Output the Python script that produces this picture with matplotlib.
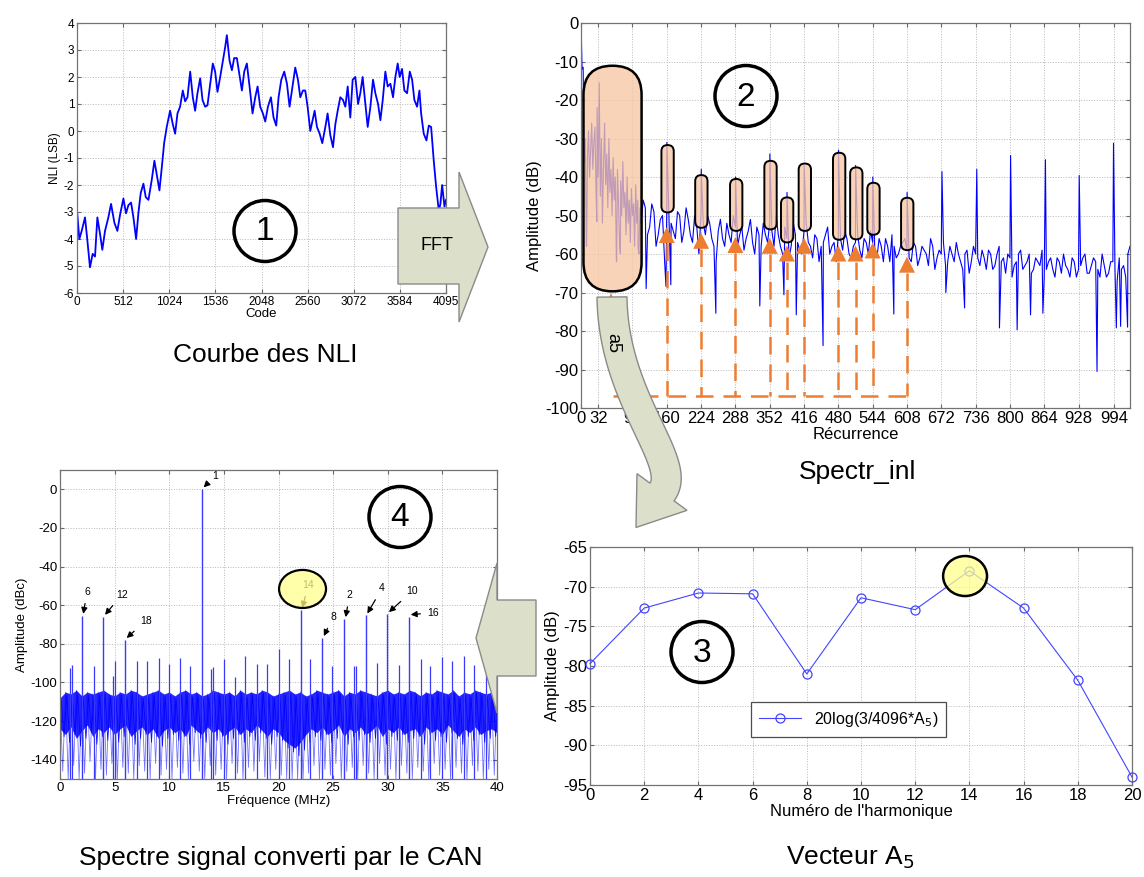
import numpy as np
import matplotlib
matplotlib.use('Agg')
import matplotlib.pyplot as plt
from matplotlib.patches import Ellipse, Polygon, FancyBboxPatch

plt.rcParams['font.family'] = ['Liberation Sans', 'DejaVu Sans']
plt.rcParams['axes.unicode_minus'] = False

# ---------------- data ----------------
# Panel 1 : NLI curve
nli_code = [0, 26, 52, 89, 115, 144, 174, 200, 226, 255, 281, 311, 348, 378, 415, 448, 478, 515, 544, 570,
            600, 626, 656, 681, 707, 737, 763, 793, 830, 859, 885, 915, 941, 967, 996, 1033, 1063, 1089, 1115, 1144,
            1174, 1200, 1226, 1256, 1285, 1311, 1337, 1367, 1393, 1422, 1448, 1478, 1507, 1533, 1559, 1589, 1619, 1644, 1663, 1693,
            1719, 1744, 1774, 1804, 1830, 1856, 1885, 1915, 1948, 1978, 2004, 2033, 2063, 2089, 2119, 2152, 2181, 2211, 2237, 2267,
            2300, 2330, 2359, 2385, 2422, 2452, 2478, 2507, 2533, 2559, 2589, 2615, 2637, 2663, 2693, 2722, 2756, 2781, 2811, 2841,
            2867, 2893, 2922, 2952, 2978, 3004, 3033, 3059, 3089, 3119, 3144, 3170, 3200, 3226, 3256, 3285, 3311, 3341, 3367, 3393,
            3422, 3448, 3478, 3507, 3533, 3559, 3581, 3607, 3633, 3663, 3693, 3719, 3744, 3774, 3800, 3819, 3848, 3878, 3904, 3930,
            3959, 3985, 4015, 4033, 4052, 4078, 4095]
nli_val = [-2.94, -4.0, -3.7, -3.2, -4.05, -5.05, -4.55, -4.65, -3.2, -3.8, -4.4, -3.7, -3.2, -2.7, -3.4, -3.7, -3.1, -2.5, -3.05, -2.75,
           -2.65, -3.2, -4.0, -3.05, -2.3, -1.95, -2.45, -2.55, -1.8, -1.1, -1.6, -2.2, -1.35, -0.45, 0.15, 0.75, 0.25, -0.1, 0.65, 0.9,
           1.5, 1.1, 1.25, 2.2, 1.25, 0.75, 1.4, 1.95, 1.15, 0.9, 0.95, 1.75, 2.5, 2.2, 1.45, 2.0, 2.6, 3.1, 3.55, 2.6,
           2.25, 2.7, 2.7, 2.05, 1.5, 2.2, 2.5, 1.65, 0.65, 1.25, 1.65, 0.9, 0.65, 0.35, 0.9, 1.25, 0.5, 0.2, 1.25, 1.9,
           2.2, 1.75, 0.9, 1.5, 2.35, 1.9, 1.25, 1.5, 1.5, 0.9, 0.0, 0.4, 0.75, 0.15, -0.1, -0.45, 0.15, 0.65, -0.15, -0.6,
           0.25, 0.75, 1.25, 1.15, 0.9, 1.65, 0.5, 1.9, 2.0, 1.0, 1.4, 2.0, 1.0, 0.15, 0.9, 1.9, 1.4, 1.0, 0.4, 1.15,
           2.2, 1.65, 1.75, 1.25, 2.0, 2.5, 2.0, 2.3, 1.5, 1.4, 2.2, 1.9, 1.15, 0.9, 1.5, 0.65, -0.1, -0.35, 0.2, 0.15,
           -1.1, -2.05, -2.95, -2.7, -2.0, -2.8, -2.55]
nli_xticks = [0, 512, 1024, 1536, 2048, 2560, 3072, 3584, 4095]

# Panel 2 : spectrum of the NLI
spec_bins_lo = list(range(0, 112, 2))
spec_db_lo = [0, -12, -11.5, -36, -30, -58, -35, -28, -40, -33, -26, -38, -31, -27, -44, -22, -40, -15.5, -45, -30,
              -52, -37, -26, -42, -34, -48, -30, -44, -38, -50, -35, -46, -40, -62, -38, -47, -58, -41, -50, -36,
              -48, -44, -55, -40, -52, -46, -57, -43, -50, -47, -58, -42, -52, -46, -60, -48]
spec_bins_even = list(range(112, 1025, 8))
spec_db_even = [-52, -48, -53, -49, -55, -50, -48, -52, -56, -50,
                -54, -51, -57, -53, -49, -55, -52, -58, -54, -56,
                -52, -57, -53, -55, -59, -54, -57, -53, -58, -55,
                -52, -58, -55, -60, -56, -58, -55, -59, -54, -57,
                -61, -56, -58, -55, -60, -57, -55, -59, -56, -61,
                -57, -59, -56, -60, -57, -61, -58, -56, -62, -58,
                -60, -57, -59, -62, -58, -61, -59, -63, -58, -61,
                -60, -63, -58, -62, -60, -64, -59, -62, -60, -63,
                -61, -59, -64, -60, -62, -65, -61, -63, -60, -64,
                -62, -65, -61, -63, -66, -62, -64, -61, -65, -63,
                -66, -62, -64, -61, -65, -63, -62, -66, -63, -65,
                -62, -67, -64, -66, -58]
spec_bins_odd = list(range(116, 1021, 8))
spec_db_odd = [-46, -55, -47, -58, -51, -62, -50, -54, -49, -57,
               -48, -55, -50, -60, -52, -50, -56, -62, -51, -58,
               -55, -50, -58, -53, -56, -51, -60, -55, -52, -57,
               -54, -50, -58, -53, -61, -52, -57, -60, -52, -58,
               -55, -62, -57, -53, -58, -62, -56, -54, -60, -58,
               -55, -61, -57, -54, -59, -56, -62, -58, -55, -61,
               -58, -56, -61, -57, -63, -58, -60, -56, -64, -59,
               -57, -62, -60, -57, -62, -60, -65, -58, -61, -59,
               -64, -60, -63, -58, -61, -60, -66, -62, -59, -63,
               -60, -64, -62, -59, -64, -61, -66, -62, -60, -64,
               -61, -66, -63, -60, -65, -61, -64, -60, -66, -62,
               -64, -61, -63, -60]
spec_dip_bins = [10, 29, 66, 73, 106, 121, 158, 167, 251, 333, 378, 401, 451, 583, 680, 715, 780, 813, 838, 861, 962, 998, 1006, 1019]
spec_dip_db = [-58, -51.6, -62, -60, -58.5, -69, -68.4, -68, -75.4, -73.5, -70.6, -75.8, -83.8, -75.6, -70, -74, -79.2, -79.7, -75.8, -75.4, -90.5, -79.2, -78.8, -79]
harm_bins = [160, 224, 288, 352, 384, 416, 480, 512, 544, 608]
harm_db = [-31, -38, -40, -34, -44, -37, -33, -37, -40, -44]
high_bins = [673, 738, 801, 866, 929, 993]
high_db = [-38.6, -38, -34.4, -35.5, -39.6, -31.2]
spec_xticks = [0, 32, 96, 160, 224, 288, 352, 416, 480, 544, 608, 672, 736, 800, 864, 928, 994]
# highlighted zones: (x0, x1, y_bottom, y_top)
pill_x0 = [150, 213, 278, 342, 373, 406, 470, 502, 534, 597]
pill_x1 = [173, 236, 301, 365, 396, 429, 493, 525, 557, 620]
pill_lo = [-49.2, -53.2, -54.0, -53.6, -57.0, -54.0, -56.3, -56.2, -55.0, -59.0]
pill_hi = [-31.7, -39.5, -40.5, -35.8, -45.3, -36.5, -33.7, -37.5, -41.5, -45.4]
arrow_tip = [-53, -54.5, -55.6, -55.8, -57.8, -55.8, -57.8, -57.8, -57, -60.7]

# Panel 3 : vector A5
harm_num = [0, 2, 4, 6, 8, 10, 12, 14, 16, 18, 20]
a5_db = [-79.7, -72.7, -70.8, -70.9, -81.0, -71.4, -72.9, -68.0, -72.7, -81.8, -94.0]

# Panel 4 : spectrum of converted signal
spur_freq = [13.0, 1.98, 3.97, 5.95, 22.03, 24.0, 26.0, 27.98, 29.96, 31.95]
spur_db = [0, -65.5, -66, -78, -62.4, -77, -67.2, -65.3, -64.6, -65.9]
spur_label = ['1', '6', '12', '18', '14', '8', '2', '4', '10', '16']
label_dx = [1.2, 0.5, 1.7, 1.9, 0.7, 1.0, 0.5, 1.5, 2.3, 2.2]
label_dy = [7, 12.5, 11.5, 10, 13, 11, 12.5, 14, 12, 2]
small_freq = [0.88, 1.1, 3.08, 4.85, 5.06, 7.05, 7.96, 9.03, 9.95, 11.0, 11.9, 13.8, 13.97, 14.98, 16.05, 16.96, 18.03,
              18.95, 20.05, 20.93, 22.91, 24.9, 26.88, 27.12, 29.05, 31.03, 33.0, 33.9, 35.0, 35.9, 36.98, 37.9, 38.96]
small_db = [-92.6, -91.2, -91.4, -96.6, -89.1, -89.1, -89.1, -87.4, -90.2, -87.1, -91.7, -93.1, -92.1, -87.8, -97.2, -86.2, -90.2,
            -90.2, -82.6, -87.8, -87.8, -91.7, -91.7, -91.7, -90.0, -90.9, -87.8, -91.7, -86.7, -88.8, -86.2, -90.9, -86.7]
noise_top = [-108, -105, -106, -104, -107, -105, -106, -105, -104, -106, -107, -105, -106, -104, -105, -107, -106, -105, -104, -106,
             -105, -107, -105, -104, -106, -105, -107, -106, -104, -105, -106, -105, -107, -104, -106, -105, -106, -104, -105, -107,
             -106, -105, -104, -106, -105, -107, -106, -104, -105, -106, -105, -104, -107, -105, -106, -104, -105, -106, -107, -105,
             -104, -106, -105, -106, -104, -105, -107, -105, -106, -104, -105, -106, -104, -107, -105, -106, -104, -105, -106, -105, -107]
noise_core = [-124, -127, -123, -129, -125, -122, -128, -124, -126, -123, -127, -124, -122, -128, -125, -123, -127, -124, -129, -125,
              -123, -126, -124, -128, -122, -125, -127, -123, -126, -124, -128, -125, -123, -127, -124, -126, -122, -125, -128, -124,
              -126, -130, -132, -134, -131, -127, -124, -126, -123, -127, -125, -122, -128, -124, -126, -123, -127, -125, -122, -128,
              -124, -126, -123, -127, -125, -124, -128, -123, -126, -124, -127, -122, -125, -128, -124, -126, -123, -127, -125, -124, -126]
noise_low = [-146, -150, -143, -150, -147, -141, -150, -145, -148, -142, -150, -144, -147, -150, -143, -146, -150, -142, -148, -145,
             -150, -144, -147, -150, -141, -146, -150, -143, -148, -145, -150, -142, -147, -150, -144, -146, -141, -149, -150, -145,
             -148, -150, -150, -150, -150, -147, -143, -150, -145, -148, -142, -150, -146, -144, -150, -143, -147, -150, -142, -148,
             -145, -150, -143, -147, -150, -144, -146, -150, -142, -148, -145, -150, -144, -147, -150, -143, -146, -150, -145, -148, -147]

# ---------------- figure ----------------
W, H = 1144, 877
fig = plt.figure(figsize=(W / 100, H / 100), dpi=100)
BLUE = '#0000ff'
ORANGE = '#ed7d31'
PEACH = (0.97, 0.78, 0.64, 0.78)
ARROW_FC = '#dcdfca'
ARROW_EC = '#8a8a8a'


def px_axes(l, t, r, b, z=1):
    return fig.add_axes([l / W, 1 - b / H, (r - l) / W, (b - t) / H], zorder=z)


def style(ax, fs):
    ax.grid(True, ls=':', color='0.72', lw=0.7)
    ax.tick_params(direction='in', labelsize=fs, length=3, color='0.4', pad=2,
                   top=True, right=True)
    for s in ax.spines.values():
        s.set_color('0.45')
        s.set_linewidth(0.9)


# Panel 1
ax1 = px_axes(77, 23, 446, 293)
ax1.plot(nli_code, nli_val, color=BLUE, lw=1.3)
ax1.set_xlim(0, 4095)
ax1.set_ylim(-6, 4)
ax1.set_xticks(nli_xticks)
ax1.set_yticks(range(-6, 5))
style(ax1, 8.5)
ax1.set_xlabel('Code', fontsize=9.5, labelpad=0)
ax1.set_ylabel('NLI (LSB)', fontsize=8.5, labelpad=2)

# Panel 2
ax2 = px_axes(581, 23, 1130, 408)
pts = {}
for b, v in zip(spec_bins_lo, spec_db_lo):
    pts[b] = v
for b, v in zip(spec_bins_even, spec_db_even):
    pts[b] = v
for b, v in zip(spec_bins_odd, spec_db_odd):
    pts[b] = v
for b, v in zip(spec_dip_bins, spec_dip_db):
    pts[b + 0.5] = v
for b, v in zip(harm_bins, harm_db):
    pts[b + 0.25] = v
for b, v in zip(high_bins, high_db):
    pts[b + 0.25] = v
xs = sorted(pts)
ax2.plot(xs, [pts[k] for k in xs], color=BLUE, lw=0.8)
ax2.set_xlim(0, 1024)
ax2.set_ylim(-100, 0)
ax2.set_xticks(spec_xticks)
ax2.set_yticks(range(-100, 1, 10))
style(ax2, 12)
ax2.set_xlabel('Récurrence', fontsize=12, labelpad=1)
ax2.set_ylabel('Amplitude (dB)', fontsize=12, labelpad=2)

ppx = (1130 - 581) / 1024.0
ppy = (408 - 23) / 100.0
asp = ppx / ppy


def pill(ax, x0, x1, y0, y1, lw):
    p = FancyBboxPatch((x0, y0), x1 - x0, y1 - y0,
                       boxstyle='round,pad=0,rounding_size=%f' % ((x1 - x0) / 2.0),
                       mutation_aspect=asp, fc=PEACH, ec='black', lw=lw, zorder=5)
    ax.add_patch(p)


pill(ax2, 4.6, 113, -69.7, -11.1, 1.8)
for x0, x1, lo, hi in zip(pill_x0, pill_x1, pill_lo, pill_hi):
    pill(ax2, x0, x1, lo, hi, 1.4)

hw = 8 / ppx   # half width of arrow head in data units
hh = 16 / ppy  # head height in dB
for hx, tip in zip(harm_bins, arrow_tip):
    ax2.add_patch(Polygon([(hx - hw, tip - hh), (hx + hw, tip - hh), (hx, tip)],
                          closed=True, fc=ORANGE, ec='none', zorder=6))
    ax2.plot([hx, hx], [tip - hh, -97], color=ORANGE, lw=1.8, dashes=(7, 4), zorder=6)
ax2.plot([60, 608], [-97, -97], color=ORANGE, lw=1.8, dashes=(7, 4), zorder=6)
ax2.add_patch(Polygon([(56 - 6, -72.5), (56 + 6, -72.5), (56, -70)], closed=True,
                      fc=ORANGE, ec='none', zorder=6))

# Panel 4
ax4 = px_axes(60, 470, 497, 779)
fgrid = np.linspace(0, 40, len(noise_top))
step = fgrid[1] - fgrid[0]
zig_x, zig_y, zig2_x, zig2_y = [], [], [], []
for f, t, c, lo in zip(fgrid, noise_top, noise_core, noise_low):
    zig_x += [f, f + step * 0.5]
    zig_y += [t, lo]
    zig2_x += [f + step * 0.25, f + step * 0.75]
    zig2_y += [t - 1.5, c - 4]
ax4.fill_between(fgrid, noise_core, noise_top, color=BLUE, alpha=0.85, lw=0, zorder=2)
ax4.plot(zig_x, zig_y, color=BLUE, lw=0.6, alpha=0.55, zorder=2)
ax4.plot(zig2_x, zig2_y, color=BLUE, lw=0.6, alpha=0.9, zorder=2)
ax4.vlines(small_freq, -150, small_db, color='#3a3aff', lw=0.9, zorder=3)
ax4.vlines(spur_freq, -150, spur_db, color='#3a3aff', lw=1.0, zorder=3)
ax4.set_xlim(0, 40)
ax4.set_ylim(-150, 10)
ax4.set_xticks(range(0, 41, 5))
ax4.set_yticks(range(-140, 1, 20))
style(ax4, 9.5)
ax4.set_xlabel('Fréquence (MHz)', fontsize=9.5, labelpad=1)
ax4.set_ylabel('Amplitude (dBc)', fontsize=9.5, labelpad=2)
for f, v, lab, dx, dy in zip(spur_freq, spur_db, spur_label, label_dx, label_dy):
    ax4.annotate(lab, xy=(f + 0.15, v + 1), xytext=(f + dx, v + dy), fontsize=7.5,
                 ha='center', va='center', zorder=8,
                 arrowprops=dict(arrowstyle='-|>', color='black', lw=0.9,
                                 mutation_scale=9, shrinkA=3, shrinkB=0))
ax4.add_patch(Ellipse((22.2, -51.6), 4.3, 19.7, fc=(1.0, 1.0, 0.55, 0.75), ec='black', lw=1.6, zorder=9))

# Panel 3
ax3 = px_axes(590, 547, 1132, 785)
ax3.plot(harm_num, a5_db, color='#4444ff', lw=0.8, marker='o', mfc='none', ms=6.5, mew=0.9,
         label=r'20log(3/4096*A$_5$)', clip_on=False, zorder=3)
ax3.set_xlim(0, 20)
ax3.set_ylim(-95, -65)
ax3.set_xticks(range(0, 21, 2))
ax3.set_yticks(range(-95, -64, 5))
style(ax3, 12)
ax3.set_xlabel("Numéro de l'harmonique", fontsize=12, labelpad=1)
ax3.set_ylabel('Amplitude (dB)', fontsize=12, labelpad=2)
leg = ax3.legend(loc='lower left', bbox_to_anchor=(0.283, 0.17), fontsize=11.5, fancybox=False,
                 framealpha=1, edgecolor='0.3', handlelength=2.6, borderpad=0.5)
leg.get_frame().set_linewidth(0.9)
ax3.add_patch(Ellipse((13.84, -68.66), 1.62, 5.04, fc=(1.0, 1.0, 0.55, 0.75), ec='black', lw=1.8, zorder=9))

# Overlay (pixel coordinates)
ov = fig.add_axes([0, 0, 1, 1], zorder=20)
ov.set_xlim(0, W)
ov.set_ylim(H, 0)
ov.axis('off')
ov.patch.set_alpha(0)

ov.add_patch(Polygon([(398, 208), (459, 208), (459, 172), (488, 247), (459, 322), (459, 284), (398, 284)],
                     closed=True, fc=ARROW_FC, ec=ARROW_EC, lw=1.0))
ov.text(437, 246, 'FFT', fontsize=13, ha='center', va='center')
ov.add_patch(Polygon([(536, 600), (497, 600), (497, 563), (476, 638), (497, 713), (497, 676), (536, 676)],
                     closed=True, fc=ARROW_FC, ec=ARROW_EC, lw=1.0))

# curved "a5" arrow built from a cubic Bezier centre line
C = np.array([(612, 297), (613, 400), (684, 462), (662, 492)], dtype=float)
tt = np.linspace(0, 1, 50)[:, None]
cen = ((1 - tt) ** 3) * C[0] + 3 * ((1 - tt) ** 2) * tt * C[1] + 3 * (1 - tt) * tt ** 2 * C[2] + tt ** 3 * C[3]
der = 3 * ((1 - tt) ** 2) * (C[1] - C[0]) + 6 * (1 - tt) * tt * (C[2] - C[1]) + 3 * tt ** 2 * (C[3] - C[2])
der = der / np.linalg.norm(der, axis=1)[:, None]
nrm = np.column_stack([-der[:, 1], der[:, 0]])
half = 15.0
left_edge = cen + nrm * half
right_edge = cen - nrm * half
d_end, n_end = der[-1], nrm[-1]
head = [C[3] + n_end * 31, C[3] + d_end * 44, C[3] - n_end * 31]
poly = np.vstack([left_edge, head, right_edge[::-1]])
ov.add_patch(Polygon(poly, closed=True, fc=ARROW_FC, ec=ARROW_EC, lw=1.0))
ov.text(613, 343, 'a5', fontsize=13, rotation=-90, ha='center', va='center')

for cx, cy, lab in [(265, 231, '1'), (746, 96, '2'), (702, 652, '3'), (400, 517, '4')]:
    ov.add_patch(Ellipse((cx, cy), 62, 61, fill=False, ec='black', lw=2.5))
    ov.text(cx, cy + 1, lab, fontsize=24, ha='center', va='center')

ov.text(265, 355, 'Courbe des NLI', fontsize=19, ha='center', va='center')
ov.text(858, 472, 'Spectr_inl', fontsize=19, ha='center', va='center')
ov.text(281, 858, 'Spectre signal converti par le CAN', fontsize=19, ha='center', va='center')
ov.text(850, 858, r'Vecteur A$_5$', fontsize=19, ha='center', va='center')

fig.savefig('out.png', dpi=100)
